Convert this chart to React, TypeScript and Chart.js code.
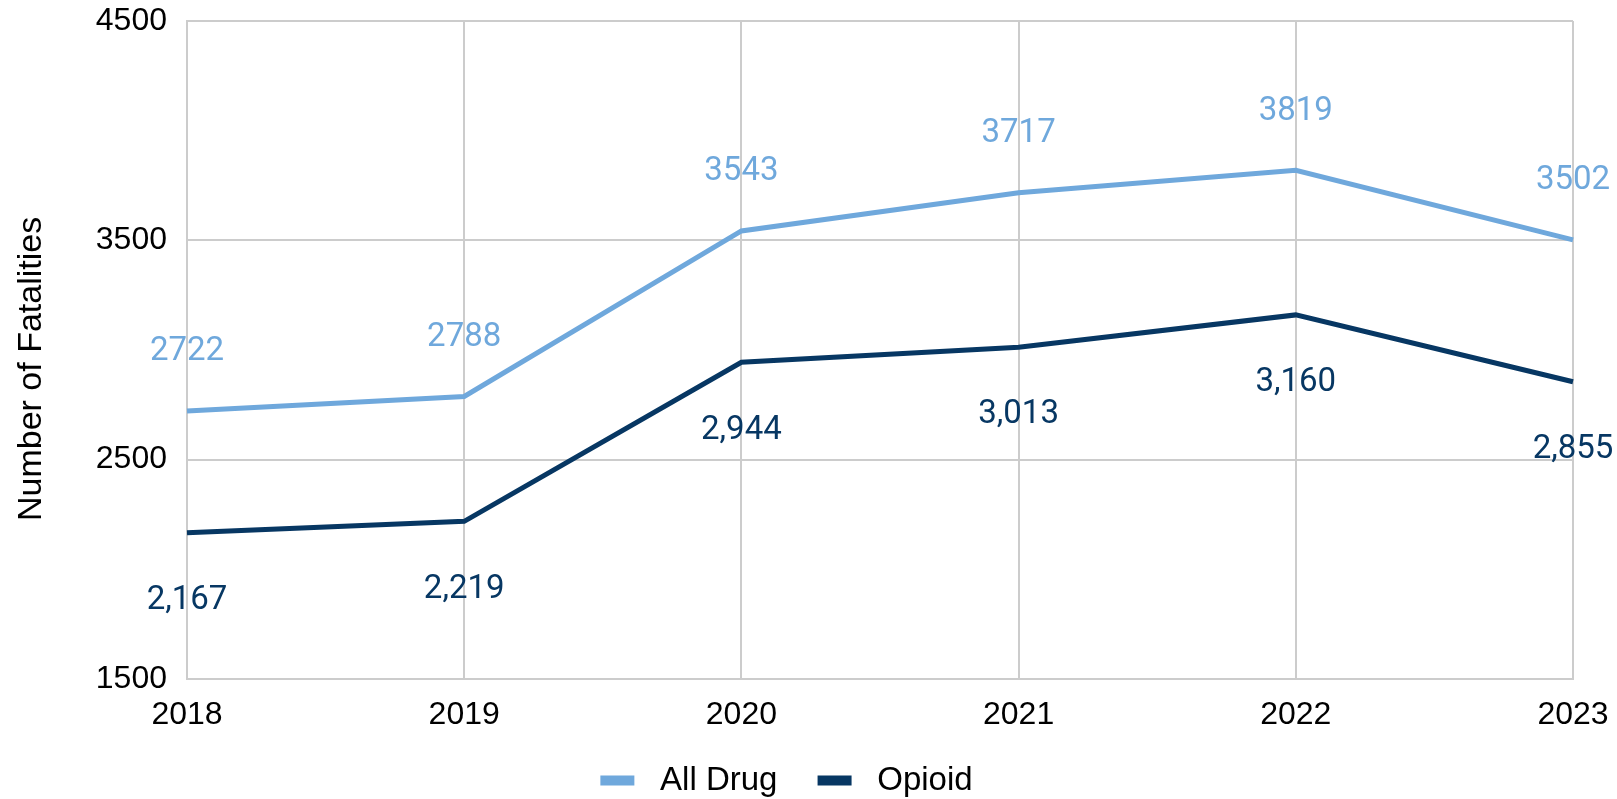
import React, { useEffect, useRef } from "react";
import { Chart, registerables } from "chart.js";

Chart.register(...registerables);

const years = ["2018", "2019", "2020", "2021", "2022", "2023"];
const allDrug = [2722, 2788, 3543, 3717, 3819, 3502];
const opioid = [2167, 2219, 2944, 3013, 3160, 2855];
const allDrugLabels = ["2722", "2788", "3543", "3717", "3819", "3502"];
const opioidLabels = ["2,167", "2,219", "2,944", "3,013", "3,160", "2,855"];

const LIGHT = "#6fa8dc";
const DARK = "#073763";
const GRID = "#cccccc";

const labelPlugin = {
  id: "valueLabels",
  afterDatasetsDraw(chart: any) {
    const ctx = chart.ctx;
    const sets = [
      { idx: 0, labels: allDrugLabels, color: LIGHT, dy: -59 },
      { idx: 1, labels: opioidLabels, color: DARK, dy: 68 },
    ];
    ctx.save();
    ctx.font = "33px Roboto";
    ctx.textAlign = "center";
    ctx.textBaseline = "middle";
    for (const s of sets) {
      const meta = chart.getDatasetMeta(s.idx);
      meta.data.forEach((pt: any, i: number) => {
        ctx.fillStyle = s.color;
        ctx.fillText(s.labels[i], pt.x, pt.y + s.dy);
      });
    }
    ctx.restore();
  },
};

export default function App() {
  const ref = useRef<HTMLCanvasElement>(null);
  useEffect(() => {
    const chart = new Chart(ref.current!, {
      type: "line",
      data: {
        labels: years,
        datasets: [
          {
            label: "All Drug",
            data: allDrug,
            borderColor: LIGHT,
            backgroundColor: LIGHT,
            borderWidth: 5,
            pointRadius: 0,
            tension: 0,
          },
          {
            label: "Opioid",
            data: opioid,
            borderColor: DARK,
            backgroundColor: DARK,
            borderWidth: 5,
            pointRadius: 0,
            tension: 0,
          },
        ],
      },
      options: {
        responsive: false,
        animation: false,
        layout: { padding: { top: 21, right: 44, left: 0, bottom: -8 } },
        plugins: {
          legend: {
            position: "bottom",
            labels: {
              boxWidth: 34,
              boxHeight: 10,
              padding: 31,
              color: "#000",
              font: { family: "'Liberation Sans', Arial", size: 33 },
              generateLabels: (chart: any) => {
                const items = Chart.defaults.plugins.legend.labels.generateLabels(chart);
                items.forEach((it: any, i: number) => {
                  it.lineWidth = 0;
                  it.text = " " + it.text + (i === 0 ? " " : "");
                });
                return items;
              },
            },
          },
          tooltip: { enabled: false },
        },
        scales: {
          x: {
            grid: { color: GRID, lineWidth: 2, drawTicks: false },
            border: { color: GRID, width: 2 },
            ticks: {
              color: "#000",
              padding: 17,
              maxRotation: 0,
              font: { family: "'Liberation Sans', Arial", size: 32 },
            },
            afterFit: (s: any) => {
              s.height = 54;
              s.paddingLeft = 0;
              s.paddingRight = 0;
            },
          },
          y: {
            min: 1500,
            max: 4500,
            grid: { color: GRID, lineWidth: 2, drawTicks: false },
            border: { color: GRID, width: 2 },
            ticks: {
              stepSize: 1000,
              color: "#000",
              padding: 20,
              font: { family: "'Liberation Sans', Arial", size: 32 },
              callback: (v: any) => String(v),
            },
            title: {
              display: true,
              text: "Number of Fatalities    ",
              color: "#000",
              padding: { top: 11, bottom: 0 },
              font: { family: "'Liberation Sans', Arial", size: 34 },
            },
            afterFit: (s: any) => {
              s.width = 187;
              s.paddingTop = 0;
              s.paddingBottom = 0;
            },
          },
        },
      },
      plugins: [labelPlugin],
    });
    return () => chart.destroy();
  }, []);
  return (
    <canvas
      ref={ref}
      width={1617}
      height={799}
      style={{ position: "fixed", left: 0, top: 0, display: "block" }}
    />
  );
}
